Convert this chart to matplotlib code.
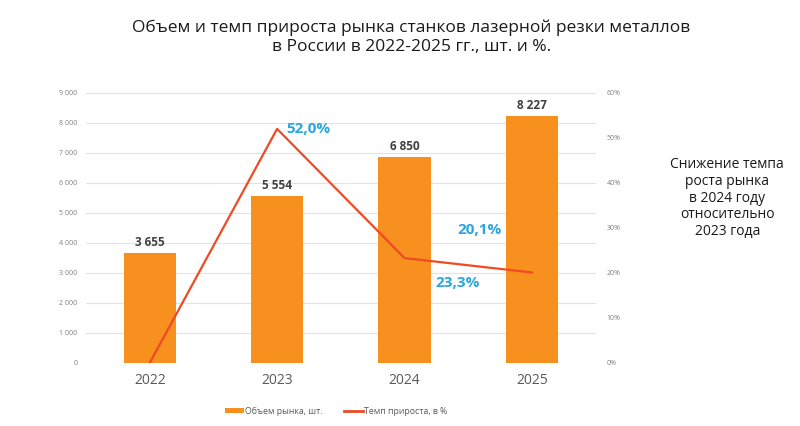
import matplotlib
matplotlib.use("Agg")
import matplotlib.pyplot as plt
from matplotlib.ticker import FuncFormatter
from matplotlib.patches import Patch
from matplotlib.lines import Line2D

years = ["2022", "2023", "2024", "2025"]
volume = [3655, 5554, 6850, 8227]
growth = [0.0, 52.0, 23.3, 20.1]
volume_labels = ["3 655", "5 554", "6 850", "8 227"]
growth_labels = ["52,0%", "23,3%", "20,1%"]

plt.rcParams['font.family'] = ['Open Sans', 'DejaVu Sans']

BAR = "#f7901e"
LINE = "#f04a24"
BLUE = "#2aa6df"
GRID = "#e3e3e3"
TICK = "#7f7f7f"

fig = plt.figure(figsize=(8, 4.26), dpi=100)
ax = fig.add_axes([0.1075, 0.148, 0.637, 0.634])
ax2 = ax.twinx()

x = list(range(len(years)))
ax.bar(x, volume, width=0.41, color=BAR, zorder=2)
ax.set_xlim(-0.5, 3.5)
ax.set_ylim(0, 9000)
ax.set_yticks(range(0, 9001, 1000))
ax.yaxis.set_major_formatter(FuncFormatter(lambda v, p: f"{int(v):,}".replace(",", " ")))
ax.grid(axis='y', color=GRID, linewidth=0.8, zorder=0)
ax.set_axisbelow(True)
ax.set_xticks(x)
ax.set_xticklabels(years)
ax.tick_params(axis='x', length=0, labelsize=10, labelcolor="#595959", pad=7)
ax.tick_params(axis='y', length=0, labelsize=5, labelcolor=TICK, pad=6)
for s in ax.spines.values():
    s.set_visible(False)

for xi, v, lab in zip(x, volume, volume_labels):
    ax.text(xi, v + 150, lab, ha='center', va='bottom', fontsize=8.5,
            fontweight='bold', color="#404040")

ax2.plot(x, growth, color=LINE, linewidth=1.6, zorder=3)
ax2.set_ylim(0, 60)
ax2.set_yticks(range(0, 61, 10))
ax2.yaxis.set_major_formatter(FuncFormatter(lambda v, p: f"{int(v)}%"))
ax2.tick_params(axis='y', length=0, labelsize=5, labelcolor=TICK, pad=8)
for s in ax2.spines.values():
    s.set_visible(False)

ax2.text(x[1] + 0.07, growth[1], growth_labels[0], ha='left', va='center',
         fontsize=11, fontweight='bold', color=BLUE)
ax2.text(x[2] + 0.42, growth[2] - 5.5, growth_labels[1], ha='center', va='center',
         fontsize=11, fontweight='bold', color=BLUE)
ax2.text(x[2] + 0.59, growth[2] + 6.2, growth_labels[2], ha='center', va='center',
         fontsize=11, fontweight='bold', color=BLUE)

handles = [Patch(facecolor=BAR, edgecolor='none'),
           Line2D([0], [0], color=LINE, linewidth=2)]
fig.legend(handles, ["Объем рынка, шт.", "Темп прироста, в %"],
           loc='center', bbox_to_anchor=(0.42, 0.035), ncol=2, frameon=False,
           fontsize=6.3, labelcolor="#595959", handlelength=2.2, handleheight=0.6,
           handletextpad=0.1, columnspacing=2.5)

fig.text(0.514, 0.913, "Объем и темп прироста рынка станков лазерной резки металлов\nв России в 2022-2025 гг., шт. и %.",
         ha='center', va='center', fontsize=12.5, color="#1a1a1a", linespacing=1.3)

fig.text(0.909, 0.535, "Снижение темпа\nроста рынка\nв 2024 году\nотносительно\n2023 года",
         ha='center', va='center', fontsize=10, color="#1a1a1a", linespacing=1.15)

fig.savefig("out.png", dpi=100, facecolor="white")
